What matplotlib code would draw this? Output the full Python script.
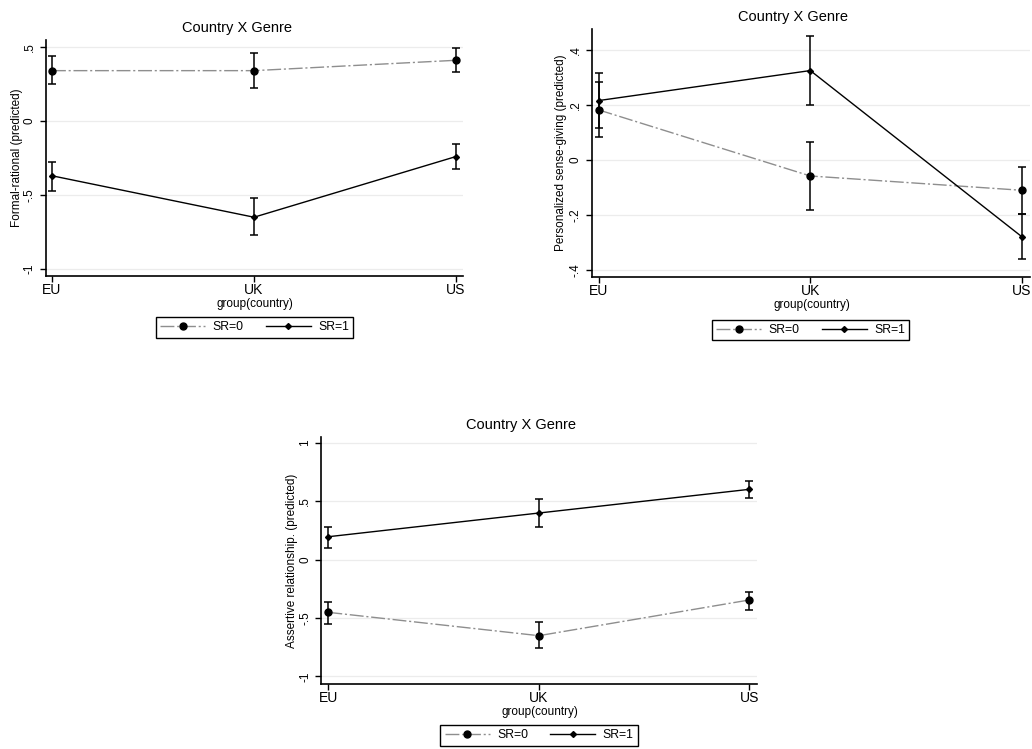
import matplotlib
matplotlib.use("Agg")
import matplotlib.pyplot as plt
import numpy as np

plt.rcParams['font.family'] = ['Liberation Sans', 'DejaVu Sans']
plt.rcParams['lines.scale_dashes'] = False

# ---- data ----
countries = ["EU", "UK", "US"]
series_labels = ["SR=0", "SR=1"]
panel_titles = ["Country X Genre", "Country X Genre", "Country X Genre"]
xlabel = "group(country)"

# Panel 1: Formal-rational
p1_ylabel = "Formal-rational (predicted)"
p1_sr0 = [0.34, 0.34, 0.41]
p1_sr0_lo = [0.25, 0.22, 0.33]
p1_sr0_hi = [0.44, 0.46, 0.49]
p1_sr1 = [-0.37, -0.65, -0.24]
p1_sr1_lo = [-0.47, -0.77, -0.325]
p1_sr1_hi = [-0.28, -0.52, -0.157]
p1_yticks = [-1, -0.5, 0, 0.5]
p1_yticklabels = ["-1", "-.5", "0", ".5"]

# Panel 2: Personalized sense-giving
p2_ylabel = "Personalized sense-giving (predicted)"
p2_sr0 = [0.182, -0.058, -0.11]
p2_sr0_lo = [0.084, -0.18, -0.195]
p2_sr0_hi = [0.284, 0.065, -0.024]
p2_sr1 = [0.216, 0.325, -0.279]
p2_sr1_lo = [0.118, 0.199, -0.36]
p2_sr1_hi = [0.317, 0.45, -0.195]
p2_yticks = [-0.4, -0.2, 0, 0.2, 0.4]
p2_yticklabels = ["-.4", "-.2", "0", ".2", ".4"]

# Panel 3: Assertive relationship
p3_ylabel = "Assertive relationship. (predicted)"
p3_sr0 = [-0.451, -0.651, -0.345]
p3_sr0_lo = [-0.548, -0.76, -0.428]
p3_sr0_hi = [-0.365, -0.537, -0.274]
p3_sr1 = [0.197, 0.40, 0.603]
p3_sr1_lo = [0.103, 0.283, 0.526]
p3_sr1_hi = [0.283, 0.518, 0.677]
p3_yticks = [-1, -0.5, 0, 0.5, 1]
p3_yticklabels = ["-1", "-.5", "0", ".5", "1"]

W, H = 1032, 749
fig = plt.figure(figsize=(W / 100, H / 100), dpi=100)
fig.patch.set_facecolor("white")

GRAY = "#8e8e8e"


def px_axes(left, top, right, bottom):
    return fig.add_axes([left / W, 1 - bottom / H, (right - left) / W, (bottom - top) / H])


def panel(rect, xlim, ylim, sr0, sr0lo, sr0hi, sr1, sr1lo, sr1hi, yticks, yticklabels,
          ylabel, ylabel_x, title, title_xy, xlab_xy, legend_xy):
    ax = px_axes(*rect)
    x = np.arange(len(countries))
    for t in yticks:
        ax.axhline(t, color="#ececec", lw=0.9, zorder=0)
    l0, = ax.plot(x, sr0, color=GRAY, lw=1.0, dashes=(10, 2, 1.5, 2),
                  marker="o", markersize=5, markerfacecolor="black",
                  markeredgecolor="black", zorder=3)
    l1, = ax.plot(x, sr1, color="black", lw=1.0, marker="D", markersize=3,
                  markerfacecolor="black", markeredgecolor="black", zorder=3)
    for vals, lo, hi in [(sr0, sr0lo, sr0hi), (sr1, sr1lo, sr1hi)]:
        vals = np.array(vals)
        err = [vals - np.array(lo), np.array(hi) - vals]
        ax.errorbar(x, vals, yerr=err, fmt="none", ecolor="black",
                    elinewidth=1.1, capsize=3.2, capthick=1.1, zorder=4)
    ax.set_xlim(*xlim)
    ax.set_ylim(*ylim)
    ax.set_xticks(x)
    ax.set_xticklabels(countries, fontsize=10)
    ax.set_yticks(yticks)
    ax.set_yticklabels(yticklabels, fontsize=8.5, rotation=90, va="center")
    ax.tick_params(axis="both", direction="out", length=4, width=1.0, colors="black")
    ax.tick_params(axis="x", pad=1)
    ax.tick_params(axis="y", pad=3)
    for s in ["top", "right"]:
        ax.spines[s].set_visible(False)
    for s in ["left", "bottom"]:
        ax.spines[s].set_linewidth(1.2)
    ax.set_facecolor("white")
    fig.text(ylabel_x / W, 1 - ((rect[1] + rect[3]) / 2) / H, ylabel, rotation=90,
             ha="center", va="center", fontsize=8.5)
    fig.text(title_xy[0] / W, 1 - title_xy[1] / H, title, ha="center", va="center",
             fontsize=10.5)
    fig.text(xlab_xy[0] / W, 1 - xlab_xy[1] / H, xlabel, ha="center", va="center",
             fontsize=8.5)
    leg = fig.legend([l0, l1], series_labels, loc="center", ncol=2,
                     bbox_to_anchor=(legend_xy[0] / W, 1 - legend_xy[1] / H),
                     fontsize=8.8, handlelength=3.7, handletextpad=0.6,
                     columnspacing=1.8, borderpad=0.35, numpoints=1,
                     fancybox=False, framealpha=1, edgecolor="black")
    leg.get_frame().set_linewidth(1.0)
    return ax


panel((45.7, 40, 462.7, 276), (-0.031, 2.033), (-1.047, 0.547),
      p1_sr0, p1_sr0_lo, p1_sr0_hi, p1_sr1, p1_sr1_lo, p1_sr1_hi,
      p1_yticks, p1_yticklabels, p1_ylabel, 17, panel_titles[0], (237, 28),
      (255, 304), (254.5, 327.5))

panel((591.7, 29, 1030, 277), (-0.033, 2.038), (-0.425, 0.476),
      p2_sr0, p2_sr0_lo, p2_sr0_hi, p2_sr1, p2_sr1_lo, p2_sr1_hi,
      p2_yticks, p2_yticklabels, p2_ylabel, 560.7, panel_titles[1], (792.5, 17),
      (811.7, 305), (810.5, 330))

panel((321, 436.7, 757.3, 684), (-0.035, 2.038), (-1.065, 1.054),
      p3_sr0, p3_sr0_lo, p3_sr0_hi, p3_sr1, p3_sr1_lo, p3_sr1_hi,
      p3_yticks, p3_yticklabels, p3_ylabel, 291.7, panel_titles[2], (521, 425),
      (540, 712), (539, 735.5))

fig.savefig("out.png", dpi=100, facecolor="white")
